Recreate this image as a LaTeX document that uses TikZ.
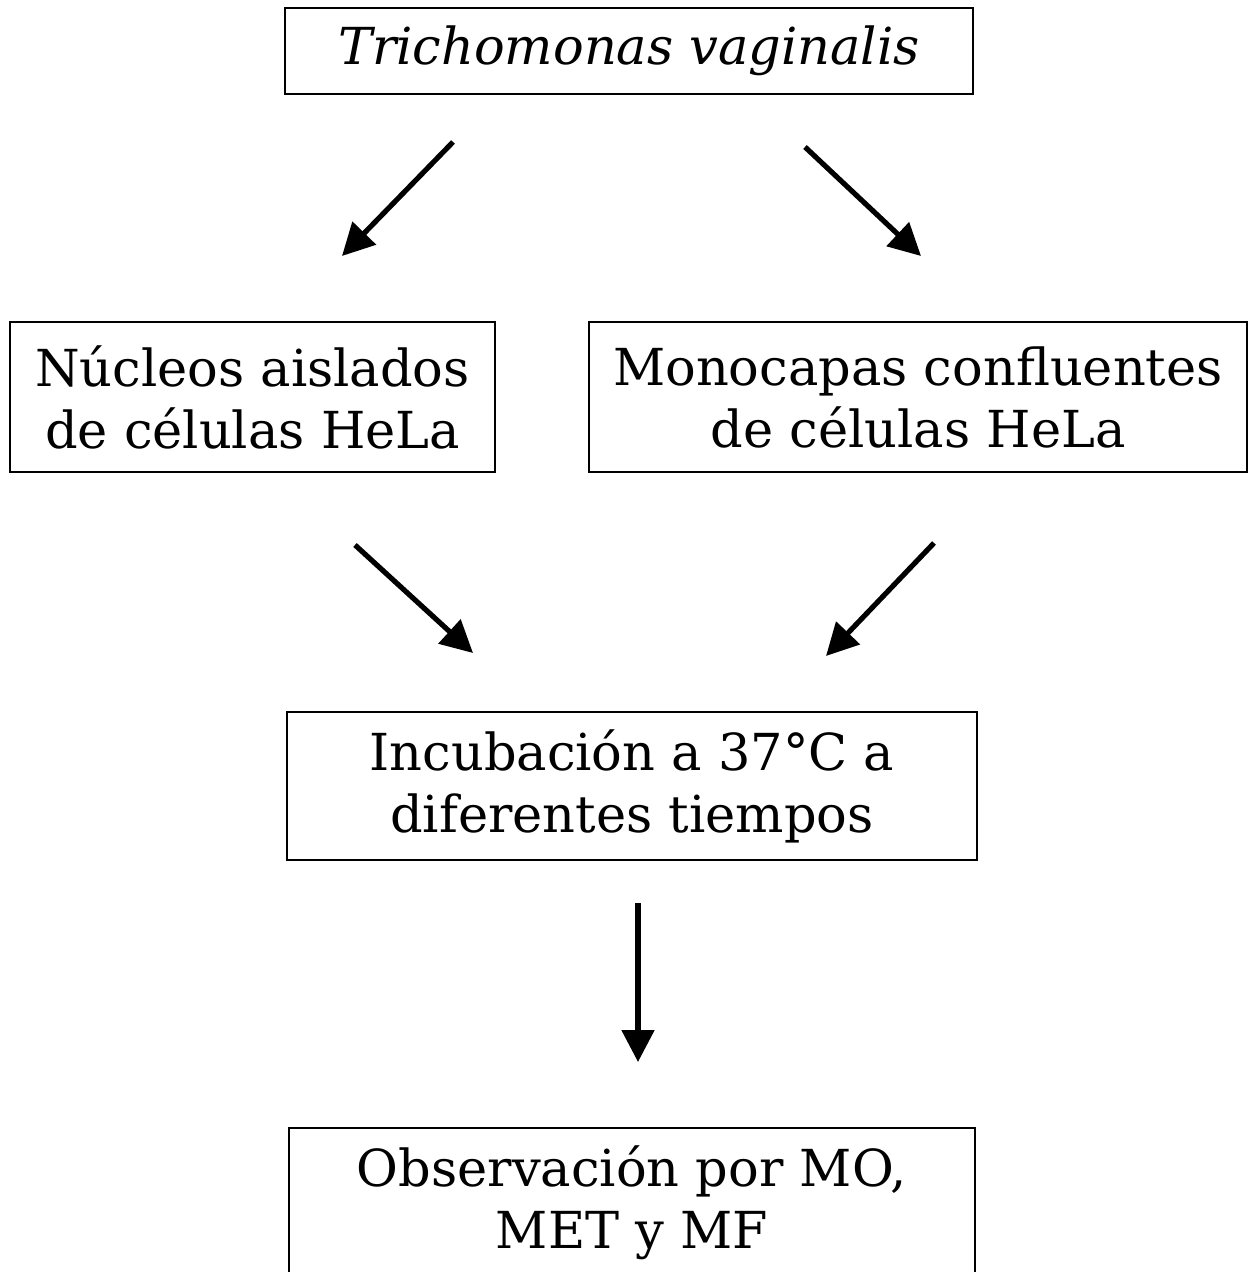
\documentclass[tikz,border=0pt]{standalone}
\usepackage{fontspec}
\setmainfont{DejaVu Serif}
\usetikzlibrary{arrows.meta}
\begin{document}
\begin{tikzpicture}[x=0.5pt,y=-0.5pt,
  box/.style={draw=black, line width=1pt, inner sep=0pt, align=center,
    font=\fontsize{25.5}{31}\selectfont},
  txt/.style={inner sep=0pt, align=center, font=\fontsize{25.5}{31}\selectfont},
  arr/.style={line width=2.6pt, -{Triangle[length=16pt,width=16pt]}}]
\useasboundingbox (0,0) rectangle (1248,1272);
\clip (0,0) rectangle (1248,1272);
\node[box, minimum width=344pt, minimum height=43pt] (b1) at (629,51) {\itshape Trichomonas vaginalis};
\node[box, minimum width=242.5pt, minimum height=75pt] (b2) at (252.5,397) {Núcleos aislados\\de células HeLa};
\node[box, minimum width=329pt, minimum height=75pt] (b3) at (918,397) {Monocapas confluentes\\de células HeLa};
\node[box, minimum width=345pt, minimum height=74pt] (b4) at (632,786) {Incubación a 37°C a\\diferentes tiempos};
\node[box, minimum width=343pt, minimum height=100pt, anchor=north] (b5) at (632,1127) {};
\node[txt] (t5) at (632,1203) {Observación por MO,\\MET y MF};
\coordinate (a1s) at (453,142); \coordinate (a1e) at (342,256);
\coordinate (a2s) at (805,147); \coordinate (a2e) at (921,256);
\coordinate (a3s) at (355,545); \coordinate (a3e) at (473,653);
\coordinate (a4s) at (934,543); \coordinate (a4e) at (826,656);
\coordinate (a5s) at (638,903); \coordinate (a5e) at (638,1062);
\draw[arr] (a1s) -- (a1e);
\draw[arr] (a2s) -- (a2e);
\draw[arr] (a3s) -- (a3e);
\draw[arr] (a4s) -- (a4e);
\draw[arr] (a5s) -- (a5e);
\end{tikzpicture}
\end{document}
